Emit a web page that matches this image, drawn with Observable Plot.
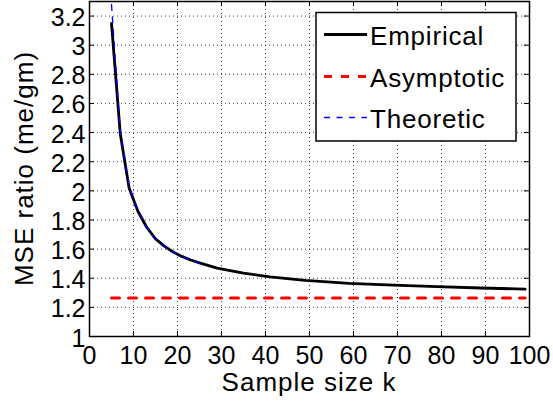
<!DOCTYPE html>
<html><head><meta charset="utf-8">
<script src="https://cdn.jsdelivr.net/npm/d3@7"></script>
<script src="https://cdn.jsdelivr.net/npm/@observablehq/plot@0.6"></script>
<style>body{margin:0;background:#fff} #chart svg{display:block}</style>
</head><body><div id="chart"></div>
<script>
// Data
const empK = [5, 7, 9, 11, 13, 15, 17, 19, 21, 23, 25, 29, 35, 41, 49, 59, 69, 79, 89, 99];
const empV = [3.15, 2.39, 2.02, 1.86, 1.75, 1.67, 1.62, 1.58, 1.55, 1.525, 1.505, 1.47, 1.435, 1.41, 1.385, 1.365, 1.353, 1.342, 1.333, 1.325];
const theoK = [5, 7, 9, 11, 13, 15, 17, 19, 21, 23, 25, 26];
const theoV = [3.28, 2.40, 2.03, 1.86, 1.75, 1.67, 1.62, 1.58, 1.55, 1.525, 1.505, 1.50];
const asymK = [5, 99];
const asymV = [1.265, 1.265];
const xTicks = [0, 10, 20, 30, 40, 50, 60, 70, 80, 90, 100];
const yTicks = [1, 1.2, 1.4, 1.6, 1.8, 2, 2.2, 2.4, 2.6, 2.8, 3, 3.2];
const seriesNames = ["Empirical", "Asymptotic", "Theoretic"];
const xLabel = "Sample size k";
const yLabel = "MSE ratio (me/gm)";

const emp = empK.map((k, i) => ({k, v: empV[i]}));
const theo = theoK.map((k, i) => ({k, v: theoV[i]}));
const asym = asymK.map((k, i) => ({k, v: asymV[i]}));

const W = 553, H = 404, mL = 89, mR = 24, mT = 1, mB = 68;
const fw = W - mL - mR, fh = H - mT - mB;
const FONT = "'Liberation Sans', Arial, Helvetica, sans-serif";
const grid = {stroke: "#000", strokeOpacity: 0.75, strokeDasharray: "1,3", strokeWidth: 1};
const styles = [
  {stroke: "#000", strokeWidth: 2.8, dash: null},
  {stroke: "#ff0000", strokeWidth: 3, dash: "8,9"},
  {stroke: "#0000ff", strokeWidth: 1.3, dash: "6,6.5"}
];

const svg = Plot.plot({
  width: W, height: H,
  marginLeft: mL, marginRight: mR, marginTop: mT, marginBottom: mB,
  style: {fontFamily: FONT, fontSize: "25px", color: "#000", background: "#fff"},
  x: {domain: [0, 100]},
  y: {domain: [1, 3.3]},
  marks: [
    Plot.gridX(xTicks, grid),
    Plot.gridY(yTicks, grid),
    Plot.line(emp, {x: "k", y: "v", stroke: styles[0].stroke, strokeWidth: styles[0].strokeWidth}),
    Plot.line(asym, {x: "k", y: "v", stroke: styles[1].stroke, strokeWidth: styles[1].strokeWidth, strokeDasharray: styles[1].dash}),
    Plot.line(theo, {x: "k", y: "v", stroke: styles[2].stroke, strokeWidth: styles[2].strokeWidth, strokeDasharray: styles[2].dash}),
    Plot.ruleX(xTicks, {x: d => d, insetTop: fh - 5, stroke: "#000"}),
    Plot.ruleX(xTicks, {x: d => d, insetBottom: fh - 5, stroke: "#000"}),
    Plot.ruleY(yTicks, {y: d => d, insetRight: fw - 5, stroke: "#000"}),
    Plot.ruleY(yTicks, {y: d => d, insetLeft: fw - 5, stroke: "#000"}),
    Plot.axisX(xTicks, {tickSize: 0, tickPadding: 10, fontSize: 25, label: null, tickFormat: d => String(d)}),
    Plot.axisY(yTicks, {tickSize: 0, tickPadding: 4, fontSize: 25, dy: 2, label: null, tickFormat: d => String(+d.toFixed(1))}),
    Plot.frame({stroke: "#000", strokeWidth: 1.5})
  ]
});

const s = d3.select(svg);
// axis titles
s.append("text").attr("x", mL + fw / 2).attr("y", 391).attr("text-anchor", "middle")
  .attr("font-size", 26).attr("letter-spacing", 1).attr("font-family", FONT).attr("fill", "#000").text(xLabel);
s.append("text").attr("transform", `translate(33,${mT + fh / 2}) rotate(-90)`).attr("text-anchor", "middle")
  .attr("font-size", 26).attr("letter-spacing", 1).attr("font-family", FONT).attr("fill", "#000").text(yLabel);

// legend
const lg = s.append("g").attr("text-anchor", "start");
lg.append("rect").attr("x", 316).attr("y", 12.5).attr("width", 200).attr("height", 128.5)
  .attr("fill", "#fff").attr("stroke", "#000").attr("stroke-width", 1.5);
const rowsY = [34.5, 76.5, 117.5];
seriesNames.forEach((name, i) => {
  lg.append("line").attr("x1", 324).attr("x2", 367).attr("y1", rowsY[i]).attr("y2", rowsY[i])
    .attr("stroke", styles[i].stroke).attr("stroke-width", styles[i].strokeWidth)
    .attr("stroke-dasharray", styles[i].dash);
  lg.append("text").attr("x", 370).attr("y", rowsY[i] + 10.5).attr("text-anchor", "start")
    .attr("font-size", 26).attr("letter-spacing", 0.8).attr("font-family", FONT).attr("fill", "#000").text(name);
});

document.getElementById("chart").appendChild(svg);
</script>
</body></html>
